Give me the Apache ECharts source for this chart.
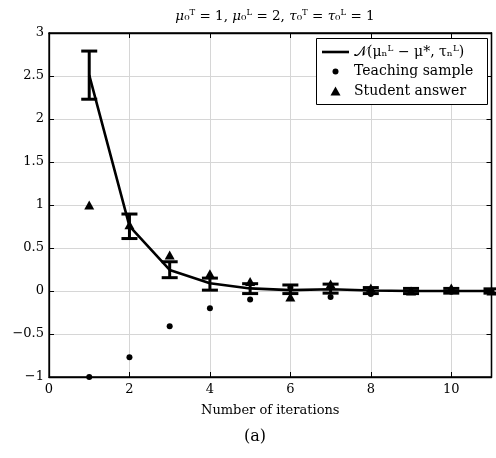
<!DOCTYPE html>
<html>
<head>
<meta charset="utf-8">
<script src="https://cdn.jsdelivr.net/npm/echarts@6/dist/echarts.min.js"></script>
<style>
html,body{margin:0;padding:0;background:#fff;}
#chart{width:496px;height:458px;}
</style>
</head>
<body>
<div id="chart"></div>
<script>
// ---- data ----
var iterations = [1, 2, 3, 4, 5, 6, 7, 8, 9, 10, 11];
var meanValues = [2.51, 0.755, 0.245, 0.09, 0.03, 0.01, 0.02, 0.005, 0.0, 0.0, 0.0];
var errLow     = [2.23, 0.61, 0.155, 0.01, -0.03, -0.03, -0.025, -0.03, -0.03, -0.025, -0.025];
var errHigh    = [2.79, 0.895, 0.34, 0.15, 0.085, 0.07, 0.08, 0.04, 0.03, 0.03, 0.025];
var teachingSample = [-1.0, -0.77, -0.41, -0.2, -0.1, 0.04, -0.07, -0.035, -0.01, -0.01, 0.0];
var studentAnswer  = [1.0, 0.77, 0.42, 0.2, 0.11, -0.07, 0.08, 0.035, 0.0, 0.035, 0.0];
var xTicks = [0, 2, 4, 6, 8, 10];
var yTicks = [-1, -0.5, 0, 0.5, 1, 1.5, 2, 2.5, 3];

var nameLine = '\uD835\uDCA9(\u03BC\u2099\u1D38 \u2212 \u03BC*, \u03C4\u2099\u1D38)';
var nameTeach = 'Teaching sample';
var nameStudent = 'Student answer';

var FONT = 'DejaVu Serif';

function pairs(ys) { return iterations.map(function (x, i) { return [x, ys[i]]; }); }

var chart = echarts.init(document.getElementById('chart'), null, {renderer: 'canvas'});

function yFmt(v) {
  if (yTicks.indexOf(v) < 0) return '';
  return v < 0 ? '\u2212' + Math.abs(v) : String(v);
}
function xFmt(v) { return xTicks.indexOf(v) < 0 ? '' : String(v); }

var commonAxisLine = {show: true, onZero: false, lineStyle: {color: '#000', width: 1.3}};
var tick = {show: true, inside: true, length: 5, lineStyle: {color: '#000', width: 1}};
var grid = {show: true, showMinLine: false, showMaxLine: false, lineStyle: {color: '#d6d6d6', width: 1}};
var legendText = {fontFamily: FONT, fontSize: 14, color: '#000', lineHeight: 16};

// legend icons: all share a 27x9 bounding box so the text column lines up
var BOX = 'M-13.5,-4.5 M13.5,4.5 ';
var iconLine = 'path://' + BOX + 'M-13.5,-1.3 L13.5,-1.3 L13.5,1.3 L-13.5,1.3 Z';
var iconDot = 'path://' + BOX + 'M-3,0 A3,3 0 1,0 3,0 A3,3 0 1,0 -3,0 Z';
var iconTri = 'path://' + BOX + 'M0,-4.5 L5,4.5 L-5,4.5 Z';

var option = {
  animation: false,
  backgroundColor: '#fff',
  title: [{
    text: '{i|\u03BC}\u2080\u1D40 = 1, {i|\u03BC}\u2080\u1D38 = 2, {i|\u03C4}\u2080\u1D40 = {i|\u03C4}\u2080\u1D38 = 1',
    left: 270, top: 4, textAlign: 'center',
    textStyle: {fontFamily: FONT, fontSize: 13.5, fontWeight: 'normal', color: '#000',
      rich: {i: {fontFamily: FONT, fontSize: 13.5, fontStyle: 'italic', color: '#000'}}}
  }, {
    text: '(a)', left: 250, top: 424, textAlign: 'center',
    textStyle: {fontFamily: FONT, fontSize: 16, fontWeight: 'normal', color: '#000'}
  }],
  grid: {left: 49, right: 4.5, top: 33, bottom: 81, show: true, borderColor: '#000', borderWidth: 1.3, backgroundColor: 'transparent'},
  graphic: [{
    type: 'rect', left: 316, top: 38, z: 100,
    shape: {width: 171, height: 66},
    style: {fill: '#fff', stroke: '#000', lineWidth: 1}
  }],
  legend: {
    orient: 'vertical', left: 316, top: 38, z: 101,
    padding: [6, 5, 6, 6], itemGap: 3.5, itemWidth: 27, itemHeight: 9,
    textStyle: legendText,
    data: [{name: nameLine, icon: iconLine, itemStyle: {color: '#000'}},
           {name: nameTeach, icon: iconDot, itemStyle: {color: '#000'}},
           {name: nameStudent, icon: iconTri, itemStyle: {color: '#000'}}]
  },
  xAxis: [{
    type: 'value', min: 0, max: 11, interval: 2, position: 'bottom',
    name: 'Number of iterations', nameLocation: 'middle', nameGap: 27,
    nameTextStyle: {fontFamily: FONT, fontSize: 13, color: '#000'},
    axisLine: commonAxisLine, axisTick: tick,
    axisLabel: {fontFamily: FONT, fontSize: 13, color: '#000', margin: 6, formatter: xFmt, showMaxLabel: false},
    splitLine: grid
  }, {
    type: 'value', min: 0, max: 11, interval: 2, position: 'top',
    axisLine: commonAxisLine, axisTick: tick, axisLabel: {show: false}, splitLine: {show: false}
  }],
  yAxis: [{
    type: 'value', min: -1, max: 3, interval: 0.5, position: 'left',
    axisLine: commonAxisLine, axisTick: tick,
    axisLabel: {fontFamily: FONT, fontSize: 13, color: '#000', margin: 5, formatter: yFmt},
    splitLine: grid
  }, {
    type: 'value', min: -1, max: 3, interval: 0.5, position: 'right',
    axisLine: commonAxisLine, axisTick: tick, axisLabel: {show: false}, splitLine: {show: false}
  }],
  series: [{
    name: nameLine, type: 'line', data: pairs(meanValues),
    symbol: 'none', lineStyle: {color: '#000', width: 2.6}, itemStyle: {color: '#000'}, z: 3
  }, {
    name: 'errorbars', type: 'custom',
    data: iterations.map(function (x, i) { return [x, errLow[i], errHigh[i]]; }),
    renderItem: function (params, api) {
      var x = api.value(0);
      var lo = api.coord([x, api.value(1)]);
      var hi = api.coord([x, api.value(2)]);
      var hw = 8;
      var st = {stroke: '#000', lineWidth: 3};
      return {type: 'group', children: [
        {type: 'line', shape: {x1: lo[0], y1: lo[1], x2: hi[0], y2: hi[1]}, style: st},
        {type: 'line', shape: {x1: hi[0] - hw, y1: hi[1], x2: hi[0] + hw, y2: hi[1]}, style: st},
        {type: 'line', shape: {x1: lo[0] - hw, y1: lo[1], x2: lo[0] + hw, y2: lo[1]}, style: st}
      ]};
    },
    encode: {x: 0, y: [1, 2]}, z: 4
  }, {
    name: nameTeach, type: 'scatter', data: pairs(teachingSample),
    symbol: 'circle', symbolSize: 6, itemStyle: {color: '#000', opacity: 1}, z: 5
  }, {
    name: nameStudent, type: 'scatter', data: pairs(studentAnswer),
    symbol: 'triangle', symbolSize: [10, 9], itemStyle: {color: '#000', opacity: 1}, z: 6
  }]
};
chart.setOption(option);
</script>
</body>
</html>
